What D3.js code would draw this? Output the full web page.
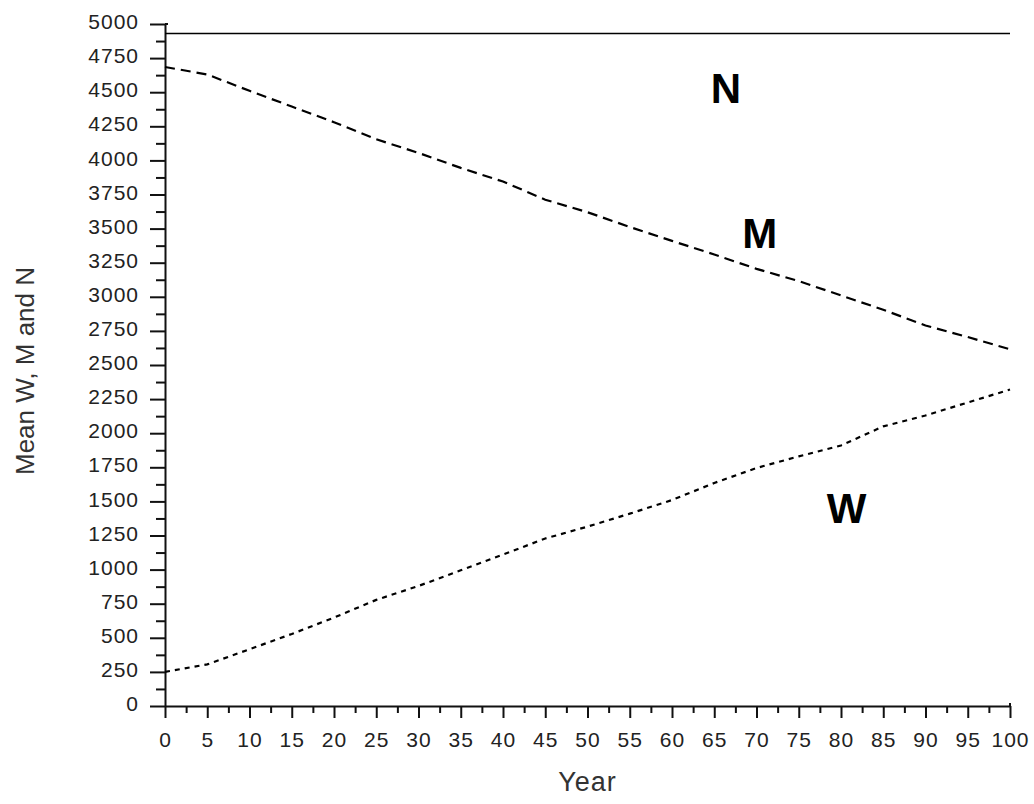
<!DOCTYPE html>
<html>
<head>
<meta charset="utf-8">
<script src="https://cdn.jsdelivr.net/npm/d3@7"></script>
<style>
  html, body { margin: 0; padding: 0; background: #fff; }
  svg { display: block; }
</style>
</head>
<body>
<svg id="chart" width="1034" height="804"></svg>
<script>
// ---- data ----
const years = [0, 5, 10, 15, 20, 25, 30, 35, 40, 45, 50, 55, 60, 65, 70, 75, 80, 85, 90, 95, 100];
const seriesN = [4930, 4930, 4930, 4930, 4930, 4930, 4930, 4930, 4930, 4930, 4930, 4930, 4930, 4930, 4930, 4930, 4930, 4930, 4930, 4930, 4930];
const seriesM = [4685, 4630, 4510, 4395, 4280, 4155, 4055, 3945, 3845, 3712, 3620, 3512, 3410, 3310, 3205, 3115, 3010, 2905, 2790, 2705, 2615];
const seriesW = [250, 305, 416, 528, 648, 778, 880, 995, 1110, 1228, 1315, 1410, 1510, 1635, 1745, 1830, 1910, 2050, 2130, 2225, 2320];
const xTickValues = d3.range(0, 101, 5);
const yTickValues = d3.range(0, 5001, 250);
const xTitle = "Year";
const yTitle = "Mean W, M and N";
const seriesLabels = ["N", "M", "W"];

(function () {
  // ---- layout ----
  const svg = d3.select("#chart");
  const pLeft = 165, pRight = 1010, pTop = 24, pBottom = 706;

  const x = d3.scaleLinear().domain([0, 100]).range([pLeft, pRight]);
  const y = d3.scaleLinear().domain([0, 5000]).range([pBottom, pTop]);

  const font = "'Liberation Sans', Arial, sans-serif";

  // minor ticks
  const xMinor = d3.axisBottom(x).tickValues(d3.range(2.5, 100, 5)).tickSize(7).tickFormat("");
  const yMinor = d3.axisLeft(y).tickValues(d3.range(125, 5000, 250)).tickSize(9).tickFormat("");

  const gxm = svg.append("g").attr("transform", `translate(0,${pBottom})`).call(xMinor);
  const gym = svg.append("g").attr("transform", `translate(${pLeft},0)`).call(yMinor);
  [gxm, gym].forEach(g => { g.select(".domain").remove(); g.selectAll("line").attr("stroke", "#111").attr("stroke-width", 2); });

  // major axes
  const xAxis = d3.axisBottom(x).tickValues(xTickValues).tickSize(12).tickSizeOuter(0).tickPadding(14).tickFormat(d3.format("d"));
  const yAxis = d3.axisLeft(y).tickValues(yTickValues).tickSize(15).tickSizeOuter(0).tickPadding(11).tickFormat(d3.format("d"));

  const gx = svg.append("g").attr("transform", `translate(0,${pBottom})`).call(xAxis);
  const gy = svg.append("g").attr("transform", `translate(${pLeft},0)`).call(yAxis);
  [gx, gy].forEach(g => {
    g.select(".domain").attr("stroke", "#111").attr("stroke-width", 2);
    g.selectAll("line").attr("stroke", "#111").attr("stroke-width", 2);
    g.selectAll("text").attr("fill", "#222").style("font-family", font)
      .style("font-size", "21px").style("letter-spacing", "1px");
  });
  gy.selectAll("text").attr("dy", "0.22em");

  // small end caps (Origin style)
  svg.append("line").attr("x1", x(100)).attr("x2", x(100)).attr("y1", pBottom).attr("y2", pBottom - 3)
    .attr("stroke", "#111").attr("stroke-width", 2);
  svg.append("line").attr("x1", pLeft).attr("x2", pLeft + 3).attr("y1", y(5000)).attr("y2", y(5000))
    .attr("stroke", "#111").attr("stroke-width", 2);

  // axis titles
  svg.append("text").attr("x", (pLeft + pRight) / 2).attr("y", 791)
    .attr("text-anchor", "middle").attr("fill", "#333")
    .style("font-family", font).style("font-size", "27px").style("letter-spacing", "1px").text(xTitle);
  svg.append("text").attr("transform", `translate(34,${(pTop + pBottom) / 2 + 6}) rotate(-90)`)
    .attr("text-anchor", "middle").attr("fill", "#333")
    .style("font-family", font).style("font-size", "26px").text(yTitle);

  // lines
  const line = d3.line().x((d, i) => x(years[i])).y(d => y(d));
  svg.append("path").datum(seriesN).attr("d", line).attr("fill", "none")
    .attr("stroke", "#000").attr("stroke-width", 1.6);
  svg.append("path").datum(seriesM).attr("d", line).attr("fill", "none")
    .attr("stroke", "#000").attr("stroke-width", 2.2).attr("stroke-dasharray", "10,6");
  svg.append("path").datum(seriesW).attr("d", line).attr("fill", "none")
    .attr("stroke", "#000").attr("stroke-width", 2.2).attr("stroke-dasharray", "5,5");

  // series labels
  const labelStyle = g => g.attr("fill", "#000").style("font-family", font)
    .style("font-size", "42px").style("font-weight", "bold");
  svg.append("text").attr("x", x(64.6)).attr("y", y(4420)).text(seriesLabels[0]).call(labelStyle);
  svg.append("text").attr("x", x(68.3)).attr("y", y(3355)).text(seriesLabels[1]).call(labelStyle);
  svg.append("text").attr("x", x(78.3)).attr("y", y(1340)).text(seriesLabels[2]).call(labelStyle);
})();
</script>
</body>
</html>
